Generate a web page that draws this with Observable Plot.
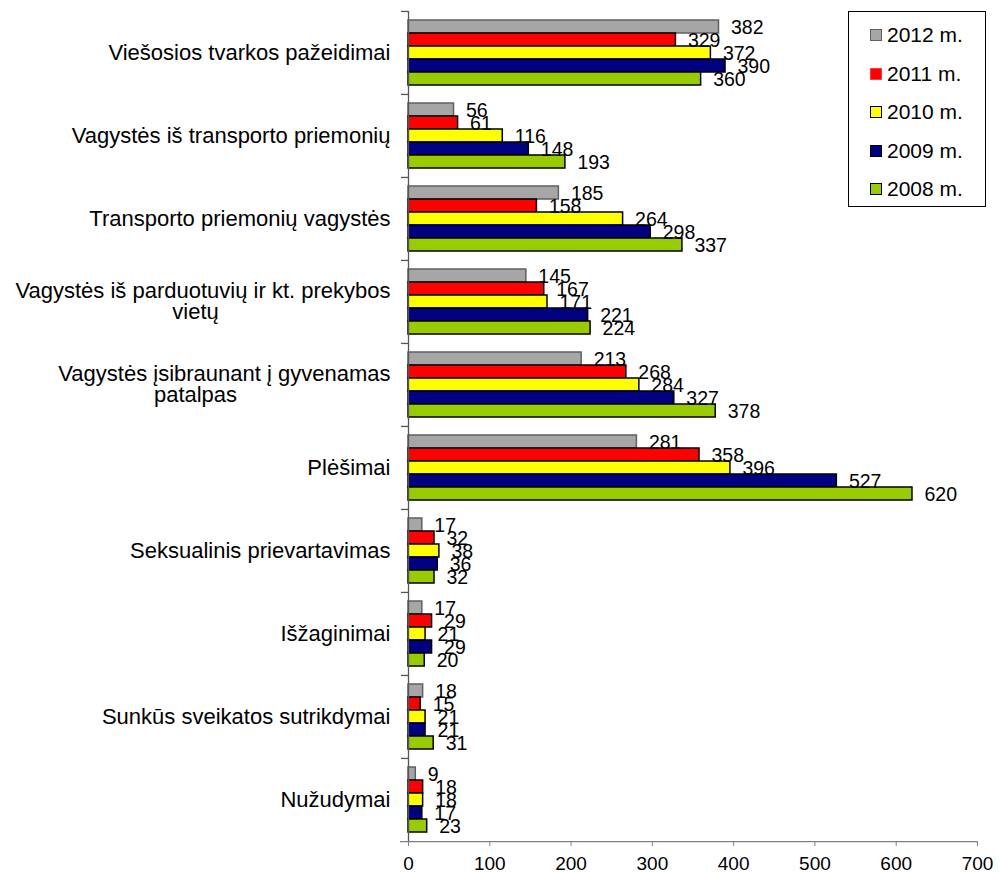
<!DOCTYPE html>
<html>
<head>
<meta charset="utf-8">
<script src="https://cdn.jsdelivr.net/npm/d3@7"></script>
<script src="https://cdn.jsdelivr.net/npm/@observablehq/plot@0.6"></script>
<style>
  body { margin: 0; background: white; }
  #wrap { position: relative; width: 1000px; height: 872px; font-family: Arial, "Liberation Sans", sans-serif; }
  #legend { position: absolute; left: 848px; top: 11px; width: 138px; height: 196px; border: 1px solid #000; background: white; box-sizing: border-box; padding-top: 4px; }
  .item { height: 38.5px; display: flex; align-items: center; padding-left: 21px; font-size: 21px; color: #000; }
  .sw { width: 10px; height: 10px; margin-right: 5px; border: 1.5px solid #000; }
</style>
</head>
<body>
<div id="wrap"></div>
<script>
const categories = [
  "Viešosios tvarkos pažeidimai",
  "Vagystės iš transporto priemonių",
  "Transporto priemonių vagystės",
  "Vagystės iš parduotuvių ir kt. prekybos\nvietų",
  "Vagystės įsibraunant į gyvenamas\npatalpas",
  "Plėšimai",
  "Seksualinis prievartavimas",
  "Išžaginimai",
  "Sunkūs sveikatos sutrikdymai",
  "Nužudymai"
];
const years = ["2012 m.", "2011 m.", "2010 m.", "2009 m.", "2008 m."];
const v2012 = [382, 56, 185, 145, 213, 281, 17, 17, 18, 9];
const v2011 = [329, 61, 158, 167, 268, 358, 32, 29, 15, 18];
const v2010 = [372, 116, 264, 171, 284, 396, 38, 21, 21, 18];
const v2009 = [390, 148, 298, 221, 327, 527, 36, 29, 21, 17];
const v2008 = [360, 193, 337, 224, 378, 620, 32, 20, 31, 23];
const xTicks = [0, 100, 200, 300, 400, 500, 600, 700];
const colors = ["#A6A6A6", "#FF0000", "#FFFF00", "#000080", "#99CC00"];
const strokes = ["#606060", "#000000", "#000000", "#000000", "#000000"];

const series = [v2012, v2011, v2010, v2009, v2008];
const data = categories.flatMap((c, i) => years.map((y, j) => ({cat: c, year: y, value: series[j][i]})));

const mLeft = 408, labelPad = 18;

const chart = Plot.plot({
  width: 1000,
  height: 872,
  marginLeft: mLeft,
  marginRight: 23,
  marginTop: 10,
  marginBottom: 31,
  style: {fontFamily: "Arial, 'Liberation Sans', sans-serif", color: "black", background: "white", overflow: "visible"},
  x: {domain: [0, 700], label: null},
  y: {domain: years, padding: 0, axis: null},
  fy: {domain: categories, paddingInner: 0.218, paddingOuter: 0.109, label: null},
  color: {domain: years, range: colors},
  marks: [
    Plot.barX(data.filter(d => d.year === years[0]), {fy: "cat", y: "year", x: "value", fill: "year", stroke: strokes[0], strokeWidth: 1.5}),
    Plot.barX(data.filter(d => d.year !== years[0]), {fy: "cat", y: "year", x: "value", fill: "year", stroke: strokes[1], strokeWidth: 1.5}),
    Plot.text(data, {fy: "cat", y: "year", x: "value", text: d => String(d.value), dx: 12, dy: 1, textAnchor: "start", fontSize: 19.5, fill: "black"}),
    Plot.ruleX([0], {insetTop: -9.06, insetBottom: -9.06, stroke: "#555", strokeWidth: 1.3}),
    Plot.axisFy({anchor: "left", tickSize: 7, fill: "none", dy: -41.55, stroke: "#555", strokeWidth: 1.3, label: null}),
    Plot.axisFy({anchor: "left", tickSize: 0, tickPadding: labelPad, fontSize: 22, lineHeight: 0.95, label: null, fill: "black"}),
    Plot.axisX({ticks: xTicks, tickSize: 5, tickPadding: 10, fontSize: 19, dy: 9.06, stroke: "#808080", fill: "black", label: null}),
    Plot.ruleY([{cat: categories[categories.length - 1], year: years[years.length - 1]}], {fy: "cat", y: "year", dy: 15.56, insetLeft: -8, stroke: "#808080", strokeWidth: 1.3})
  ]
});

const wrap = document.getElementById("wrap");
wrap.appendChild(chart);

// continuation lines of wrapped category labels are centred in the label area
const labelRight = mLeft - labelPad;
d3.select(chart).selectAll('g[aria-label="fy-axis tick label"] text').each(function() {
  const tspans = this.querySelectorAll("tspan");
  tspans.forEach((t, i) => {
    if (i > 0) {
      t.setAttribute("text-anchor", "middle");
      t.setAttribute("x", String(-labelRight / 2));
    }
  });
});

// legend
const legend = document.createElement("div");
legend.id = "legend";
years.forEach((y, j) => {
  const item = document.createElement("div");
  item.className = "item";
  const sw = document.createElement("span");
  sw.className = "sw";
  sw.style.background = colors[j];
  sw.style.borderColor = j === 0 ? "#606060" : (j === 1 ? "#ff4040" : "#000");
  item.appendChild(sw);
  item.appendChild(document.createTextNode(y));
  legend.appendChild(item);
});
wrap.appendChild(legend);
</script>
</body>
</html>
